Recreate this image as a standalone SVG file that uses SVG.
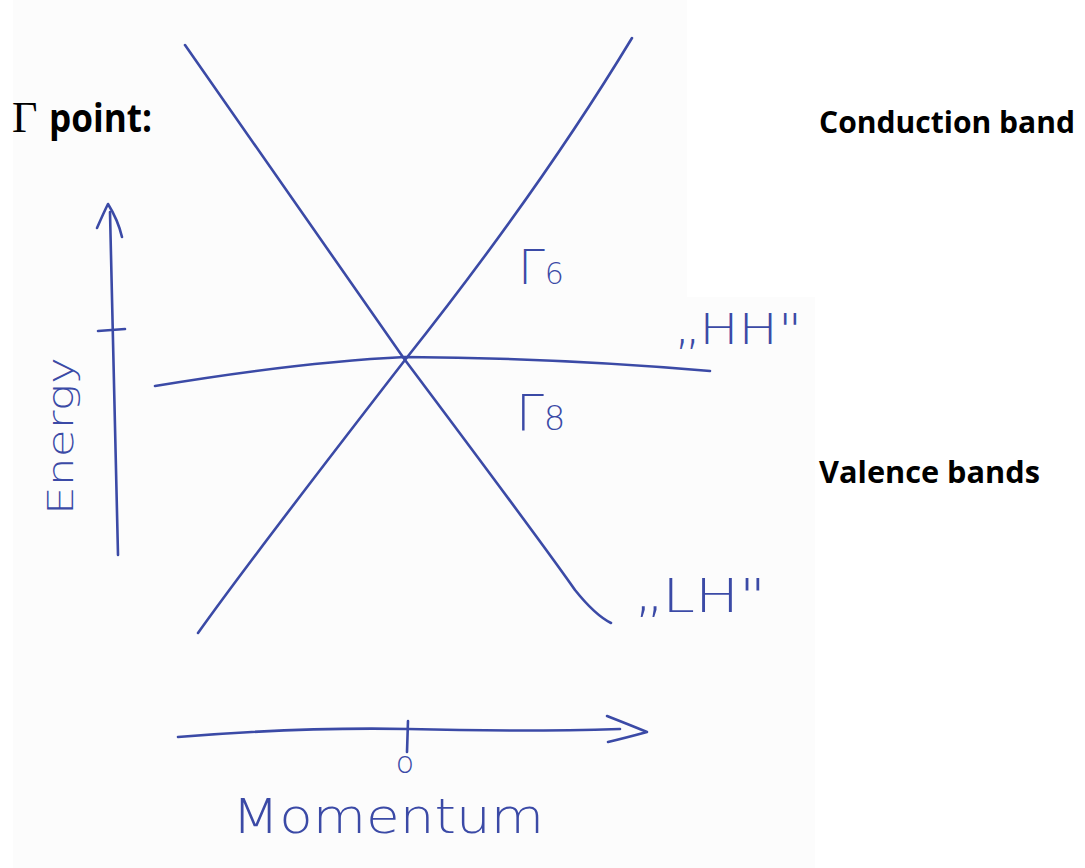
<svg xmlns="http://www.w3.org/2000/svg" width="1085" height="868" viewBox="0 0 1085 868">
<style>
.ink{fill:none;stroke:#3b4aa6;stroke-width:2.6;stroke-linecap:round;stroke-linejoin:round}
.hw{fill:#3b4aa6;font-family:"DejaVu Sans",sans-serif;font-weight:300}
.lbl{fill:#000;font-family:"Open Sans","Liberation Sans",sans-serif;font-weight:bold}
</style>
<rect width="1085" height="868" fill="#ffffff"/>
<rect x="13" y="0" width="802" height="868" fill="#fcfcfc"/>
<rect x="687" y="0" width="128" height="297" fill="#ffffff"/>
<g id="bands">
<path class="ink" d="M185,45 L405,360 Q540,540 575,590 Q595,615 611,623"/>
<path class="ink" d="M632,38 Q540,190 405,360 Q250,560 198,633"/>
<path class="ink" d="M155,386 Q300,362 405,357 Q560,358 710,371"/>
</g>
<g id="energy-axis">
<path class="ink" d="M110,212 Q114,380 118,555"/>
<path class="ink" d="M97,228 Q104,212 108,204 Q118,220 122,237"/>
<path class="ink" d="M98,331 L125,329"/>
<text class="hw" font-size="36" transform="translate(73,515) rotate(-90)" textLength="158" lengthAdjust="spacingAndGlyphs">Energy</text>
</g>
<g id="momentum-axis">
<path class="ink" d="M178,737 Q300,727 408,729 Q520,732 620,729"/>
<path class="ink" d="M607,716 Q630,725 647,732 Q625,738 608,742"/>
<path class="ink" d="M408,721 L407,752"/>
<text class="hw" font-size="30" x="405" y="773" text-anchor="middle">o</text>
<text class="hw" font-size="48" x="232" y="833" textLength="312" lengthAdjust="spacingAndGlyphs">Momentum</text>
</g>
<g id="labels-hand">
<text class="hw" font-size="48" x="518" y="284">Γ<tspan font-size="30">6</tspan></text>
<text class="hw" font-size="50" x="516" y="430">Γ<tspan font-size="34">8</tspan></text>
<text class="hw" font-size="42" x="674" y="344" textLength="128" lengthAdjust="spacingAndGlyphs">„HH"</text>
<text class="hw" font-size="46" x="634" y="612" textLength="132" lengthAdjust="spacingAndGlyphs">„LH"</text>
</g>
<g id="labels">
<text x="12" y="132" font-family="Liberation Serif,serif" font-size="44" fill="#000">Γ</text>
<text class="lbl" font-size="40" x="49" y="132" textLength="103" lengthAdjust="spacingAndGlyphs">point:</text>
<text class="lbl" font-size="30" x="819" y="133" textLength="256" lengthAdjust="spacingAndGlyphs">Conduction band</text>
<text class="lbl" font-size="31" x="819" y="483" textLength="221" lengthAdjust="spacingAndGlyphs">Valence bands</text>
</g>
</svg>
